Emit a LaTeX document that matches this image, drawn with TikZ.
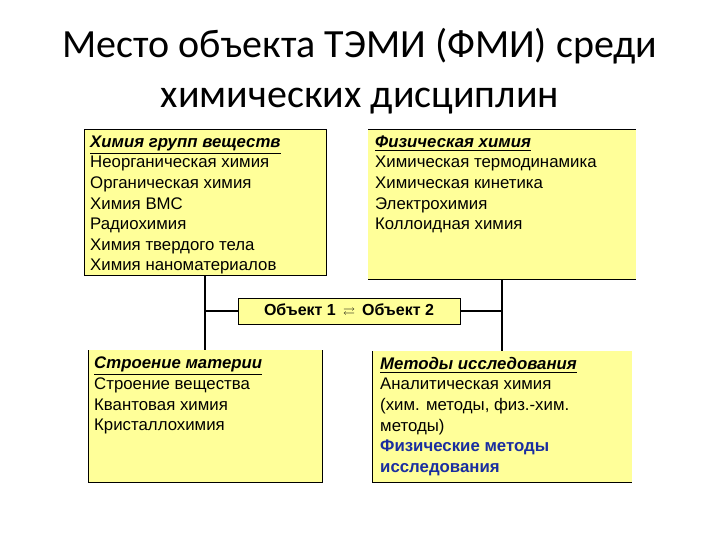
\documentclass[tikz,border=0pt]{standalone}
\usepackage{amssymb}
\usepackage{fontspec}
\setmainfont{Liberation Sans}
\newfontfamily\titlefont{Carlito}
\usetikzlibrary{positioning}
\definecolor{boxyellow}{HTML}{FFFF99}
\definecolor{methblue}{HTML}{1A2EA0}

\begin{document}
\begin{tikzpicture}[x=1pt, y=-1pt,
  box/.style={fill=boxyellow, inner sep=0pt, anchor=north west},
  txt/.style={anchor=north west, inner sep=0pt, align=left, font=\fontsize{16.8}{20.6}\selectfont},
  frame/.style={line width=0.8pt},
  link/.style={line width=1.8pt}
]
\useasboundingbox[fill=white] (0,0) rectangle (720,540);
\node[font=\titlefont\fontsize{40}{50}\selectfont, align=center, anchor=north, inner sep=0pt] (title) at (360,28) {Место объекта ТЭМИ (ФМИ) среди\\химических дисциплин};

\node[box, minimum width=242pt, minimum height=146pt] (grp) at (84,129) {};
\node[box, minimum width=268pt, minimum height=150pt] (phys) at (368,129) {};
\node[box, minimum width=234pt, minimum height=132pt] (struct) at (88,350) {};
\node[box, minimum width=260pt, minimum height=131pt] (meth) at (372,351) {};
\draw[frame] (grp.north west) rectangle (grp.south east);
\draw[frame] (phys.north west) -- (phys.north east) (phys.south west) -- (phys.south east);
\draw[frame] (struct.north west) -- (struct.south west) -- (struct.south east) -- (struct.north east);
\draw[frame] (meth.north west) -- (meth.south west) -- (meth.south east);

\node[txt] (grptxt) at (90,135.5) {\underline{\textbf{\textit{Химия групп веществ}}}\\Неорганическая химия\\Органическая химия\\Химия ВМС\\Радиохимия\\Химия твердого тела\\Химия наноматериалов};
\node[txt] (phystxt) at (375,135.5) {\underline{\textbf{\textit{Физическая химия}}}\\Химическая термодинамика\\Химическая кинетика\\Электрохимия\\Коллоидная химия};
\node[txt] (structtxt) at (94,357) {\underline{\textbf{\textit{Строение материи}}}\\Строение вещества\\Квантовая химия\\Кристаллохимия};
\node[txt] (methtxt) at (380,357) {\underline{\textbf{\textit{Методы исследования}}}\\Аналитическая химия\\(хим. методы, физ.-хим.\\методы)\\\textcolor{methblue}{\textbf{Физические методы}}\\\textcolor{methblue}{\textbf{исследования}}};

\node[fill=boxyellow, draw, frame, inner sep=0pt, minimum width=222pt, minimum height=26pt, font=\bfseries\fontsize{16}{16}\selectfont] (obj) at (349,311) {Объект 1 \,{\fontsize{12}{12}\selectfont$\rightleftarrows$}\, Объект 2};

\draw[link] (grp.south) -- (struct.north);
\draw[link] (phys.south) -- (meth.north);
\draw[link] (obj.west) -- (obj.west -| grp.south);
\draw[link] (obj.east) -- (obj.east -| phys.south);
\end{tikzpicture}
\end{document}
